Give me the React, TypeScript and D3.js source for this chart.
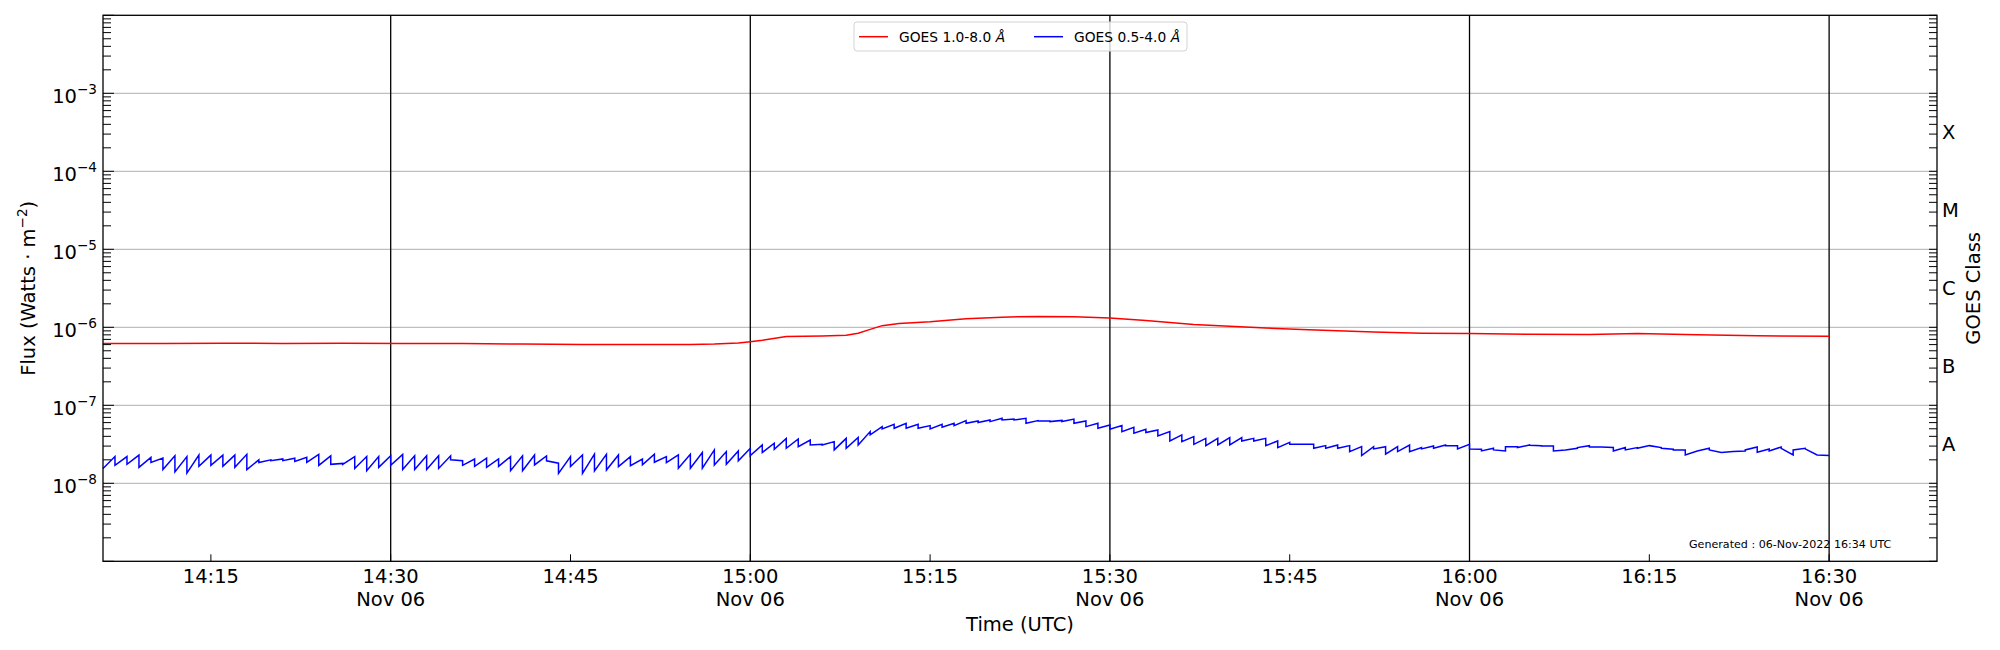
import React, { useEffect } from 'react'
import * as d3 from 'd3'

// time window (UTC), data starts at 14:06 and is sampled per minute
const startMs = Date.UTC(2022, 10, 6, 14, 6)
const endMs = Date.UTC(2022, 10, 6, 16, 39)

// GOES 0.5-4.0 A: value at start and end of each minute (x1e-8 W/m2)
const blueLo = [
  1.55, 1.7, 1.75, 1.6, 1.85, 1.5, 1.4, 1.35, 1.65, 1.7, 1.65, 1.6, 1.5, 1.85, 1.95, 1.95, 1.9, 1.85,
  1.7, 1.75, 1.75, 1.55, 1.45, 1.6, 1.7, 1.5, 1.5, 1.5, 1.55, 2.0, 1.7, 1.65, 1.6, 1.65, 1.45, 1.45,
  1.72, 1.94, 1.34, 1.64, 1.34, 1.44, 1.48, 1.64, 1.68, 1.72, 1.86, 1.84, 1.56, 1.56, 1.56, 1.72,
  1.75, 1.94, 2.27, 2.48, 2.73, 2.81, 2.95, 3.1, 3.1, 2.68, 2.81, 3.1, 4.17, 4.97, 5.07, 5.07, 5.07,
  4.97, 5.22, 5.49, 5.88, 6.0, 6.18, 6.49, 6.49, 5.88, 6.3, 6.18, 6.18, 5.88, 5.33, 5.07, 4.93, 4.6,
  4.38, 4.47, 4.05, 3.49, 3.42, 3.16, 3.04, 3.1, 3.1, 3.49, 3.49, 3.04, 2.87, 3.16, 3.16, 2.81, 2.81,
  2.81, 2.55, 2.27, 2.76, 2.36, 2.55, 2.55, 2.76, 2.81, 3.04, 2.76, 2.76, 2.6, 2.68, 2.95, 2.87, 3.07,
  3.01, 2.6, 2.68, 2.87, 2.92, 2.92, 2.6, 2.68, 2.81, 3.04, 2.81, 2.68, 2.31, 2.6, 2.68, 2.48, 2.55,
  2.68, 2.5, 2.6, 2.81, 2.68, 2.76, 2.31,
]
const blueHi = [
  2.2, 2.2, 2.3, 2.15, 2.1, 2.25, 2.2, 2.3, 2.3, 2.3, 2.3, 2.35, 2.0, 2.0, 2.05, 2.1, 2.15, 2.35,
  2.25, 1.8, 2.2, 2.2, 2.2, 2.25, 2.35, 2.25, 2.25, 2.25, 2.25, 1.95, 2.05, 2.1, 2.05, 2.2, 2.25, 2.3,
  2.24, 1.81, 2.2, 2.31, 2.36, 2.36, 2.31, 2.2, 2.05, 2.36, 2.2, 2.31, 2.36, 2.48, 2.68, 2.55,
  2.6, 2.81, 3.1, 3.26, 3.77, 3.7, 3.59, 3.16, 3.42, 3.77, 3.86, 4.6, 5.33, 5.71, 5.88, 5.71, 5.49,
  5.71, 5.88, 6.36, 6.3, 6.49, 6.81, 6.65, 6.81, 6.36, 6.3, 6.4, 6.65, 6.3, 5.88, 5.6, 5.49, 5.22,
  4.93, 4.83, 4.6, 4.17, 3.97, 3.77, 3.77, 3.86, 3.86, 3.77, 3.77, 3.49, 3.35, 3.16, 3.16, 3.04, 3.1,
  3.04, 2.95, 2.95, 2.95, 2.95, 3.1, 2.87, 3.01, 3.1, 3.04, 3.16, 2.73, 2.81, 2.6, 2.95, 3.1, 3.04,
  3.01, 2.68, 2.81, 3.04, 2.92, 2.87, 2.87, 2.87, 3.04, 2.87, 2.73, 2.68, 2.6, 2.81, 2.48, 2.55,
  2.6, 2.92, 2.76, 2.92, 2.31, 2.81, 2.31, 2.27,
]

// GOES 1.0-8.0 A: minutes after 14:06 and flux (x1e-6 W/m2)
const redMinutes = [
  0, 5, 10, 15, 20, 25, 30, 35, 40, 45, 49, 51, 53, 54, 55, 57, 60, 62, 63, 64, 65, 66.4, 69, 72, 75,
  78, 81, 84, 87, 91, 94, 97, 100, 103, 106, 110, 114, 119, 124, 128, 133, 138, 144,
]
const redFlux = [
  0.62, 0.62, 0.625, 0.62, 0.625, 0.62, 0.62, 0.61, 0.6, 0.6, 0.6, 0.61, 0.63, 0.655, 0.68, 0.76,
  0.775, 0.79, 0.84, 0.94, 1.05, 1.12, 1.18, 1.29, 1.35, 1.38, 1.37, 1.32, 1.22, 1.09, 1.03, 0.98,
  0.94, 0.9, 0.87, 0.84, 0.83, 0.815, 0.81, 0.83, 0.8, 0.78, 0.765,
]

const fluxExponents = [-8, -7, -6, -5, -4, -3]
const classLabels = ['A', 'B', 'C', 'M', 'X']
const classExponents = [-7.5, -6.5, -5.5, -4.5, -3.5]
const markerTimes = ['14:30', '15:00', '15:30', '16:00', '16:30']
const generatedText = 'Generated : 06-Nov-2022 16:34 UTC'

const W = 2000
const H = 650
const left = 103
const right = 1937
const top = 15.3
const bottom = 561.3
const font = 'DejaVu Sans, sans-serif'

const atMinute = (m: number) => new Date(startMs + m * 60000)
const atClock = (s: string) => {
  const [h, mm] = s.split(':').map(Number)
  return new Date(Date.UTC(2022, 10, 6, h, mm))
}

export default function App() {
  useEffect(() => {
    document.body.style.margin = '0'
  }, [])

  const x = d3.scaleUtc().domain([new Date(startMs), new Date(endMs)]).range([left, right])
  const y = d3.scaleLog().domain([1e-9, 1e-2]).range([bottom, top])

  const bluePts: [Date, number][] = []
  blueLo.forEach((lo, i) => {
    bluePts.push([atMinute(i), lo * 1e-8])
    bluePts.push([atMinute(i + 1), blueHi[i] * 1e-8])
  })
  const redPts: [Date, number][] = redMinutes.map((m, i) => [atMinute(m), redFlux[i] * 1e-6])

  const line = d3
    .line<[Date, number]>()
    .x(d => x(d[0]))
    .y(d => y(d[1]))

  // log ticks
  const majors = d3.range(-9, -1).map(e => Math.pow(10, e))
  const minors: number[] = []
  d3.range(-9, -2).forEach(e => {
    for (let k = 2; k <= 9; k++) minors.push(k * Math.pow(10, e))
  })

  const xTicks = x.ticks(d3.utcMinute.every(15)!)
  const fmt = d3.utcFormat('%H:%M')

  return (
    <svg width={W} height={H} style={{ display: 'block', background: 'white' }} fontFamily={font}>
      {/* horizontal grid */}
      {majors.slice(1, -1).map(v => (
        <line key={'g' + v} x1={left} x2={right} y1={y(v)} y2={y(v)} stroke="#b0b0b0" strokeWidth={1} />
      ))}

      {/* vertical markers */}
      {markerTimes.map(t => (
        <line key={t} x1={x(atClock(t))} x2={x(atClock(t))} y1={top} y2={bottom} stroke="black" strokeWidth={1.3} />
      ))}

      <path d={line(redPts) || ''} fill="none" stroke="#ff0000" strokeWidth={1.5} />
      <path d={line(bluePts) || ''} fill="none" stroke="#0000ff" strokeWidth={1.5} />

      {/* y ticks, both sides, pointing inward */}
      {majors.map(v => (
        <g key={'M' + v}>
          <line x1={left} x2={left + 11} y1={y(v)} y2={y(v)} stroke="black" strokeWidth={1} />
          <line x1={right} x2={right - 8} y1={y(v)} y2={y(v)} stroke="black" strokeWidth={1} />
        </g>
      ))}
      {minors.map(v => (
        <g key={'m' + v}>
          <line x1={left} x2={left + 8} y1={y(v)} y2={y(v)} stroke="black" strokeWidth={1} />
          <line x1={right} x2={right - 8} y1={y(v)} y2={y(v)} stroke="black" strokeWidth={1} />
        </g>
      ))}

      {/* x ticks */}
      {xTicks.map(t => (
        <line key={'x' + t.getTime()} x1={x(t)} x2={x(t)} y1={bottom} y2={bottom - 7} stroke="black" strokeWidth={1} />
      ))}

      {/* frame */}
      <rect x={left} y={top} width={right - left} height={bottom - top} fill="none" stroke="black" strokeWidth={1.3} />

      {/* y tick labels */}
      {fluxExponents.map(e => (
        <text key={'yl' + e} x={97} y={y(Math.pow(10, e)) + 10} textAnchor="end" fontSize={19.5}>
          10
          <tspan fontSize={13.6} dy={-9}>
            {'\u2212' + Math.abs(e)}
          </tspan>
        </text>
      ))}

      {/* x tick labels */}
      {xTicks.map(t => {
        const twoLine = t.getUTCMinutes() % 30 === 0
        return (
          <text key={'xl' + t.getTime()} x={x(t)} y={583} textAnchor="middle" fontSize={19.5}>
            {fmt(t)}
            {twoLine && (
              <tspan x={x(t)} dy={23}>
                {d3.utcFormat('%b %d')(t)}
              </tspan>
            )}
          </text>
        )
      })}

      {/* GOES class labels */}
      {classLabels.map((c, i) => (
        <text key={c} x={1942} y={y(Math.pow(10, classExponents[i])) + 7} fontSize={19.5}>
          {c}
        </text>
      ))}

      {/* axis titles */}
      <text x={(left + right) / 2} y={631} textAnchor="middle" fontSize={19.5}>
        Time (UTC)
      </text>
      <text transform={`translate(35,${(top + bottom) / 2}) rotate(-90)`} textAnchor="middle" fontSize={19.5}>
        {'Flux (Watts \u00b7 m'}
        <tspan fontSize={13.6} dy={-8}>
          {'\u22122'}
        </tspan>
        <tspan dy={8}>)</tspan>
      </text>
      <text transform={`translate(1980,${(top + bottom) / 2}) rotate(-90)`} textAnchor="middle" fontSize={19.5}>
        GOES Class
      </text>

      {/* legend */}
      <rect x={854} y={22} width={333} height={29} rx={3} fill="white" fillOpacity={0.8} stroke="#d3d3d3" strokeWidth={1} />
      <line x1={859} x2={888} y1={36.7} y2={36.7} stroke="#ff0000" strokeWidth={1.5} />
      <text x={899} y={41.7} fontSize={13.8}>
        GOES 1.0-8.0 <tspan fontStyle="italic">Å</tspan>
      </text>
      <line x1={1034} x2={1063} y1={36.7} y2={36.7} stroke="#0000ff" strokeWidth={1.5} />
      <text x={1074} y={41.7} fontSize={13.8}>
        GOES 0.5-4.0 <tspan fontStyle="italic">Å</tspan>
      </text>

      <text x={1689} y={548} fontSize={11.1}>
        {generatedText}
      </text>
    </svg>
  )
}
